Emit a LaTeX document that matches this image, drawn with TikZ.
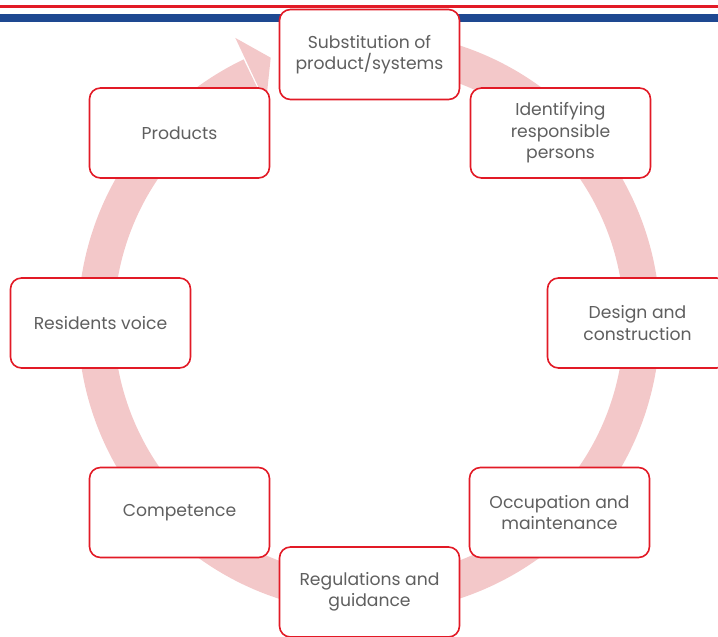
\documentclass[tikz,border=0pt]{standalone}
\usepackage{fontspec}
\setmainfont{Poppins}
\usetikzlibrary{calc}
\definecolor{bandpink}{RGB}{243,200,201}
\definecolor{boxred}{RGB}{226,26,38}
\definecolor{flagblue}{RGB}{30,72,145}
\definecolor{textgray}{RGB}{95,95,95}
\tikzset{
  stepbox/.style={draw=boxred, line width=1.6pt, rounded corners=11pt, fill=white,
    minimum width=180pt, minimum height=90pt, align=center, inner sep=2pt,
    font=\fontsize{17.2pt}{21.5pt}\selectfont, text=textgray},
  band/.style={draw=bandpink, line width=36pt},
}
\begin{document}
\begin{tikzpicture}[x=1pt,y=1pt]
\useasboundingbox (0,0) rectangle (718,637);
% top stripes
\coordinate (rl) at (0,630.5);
\coordinate (rr) at (718,630.5);
\coordinate (bl) at (0,619);
\coordinate (br) at (718,619);
\draw[boxred, line width=3pt] (rl) -- (rr);
\draw[flagblue, line width=8pt] (bl) -- (br);
% circular arrow
\coordinate (C) at (369,315);
\draw[band] ([shift={(78:273pt)}]C) arc[start angle=78, end angle=-244.5, radius=273pt];
\fill[bandpink] ($(C)+(115.2:242pt)$) -- ($(C)+(115.2:314pt)$) -- ($(C)+(110.4:282pt)$) -- cycle;
% boxes
\node[stepbox] (sub) at (369.5,582.5) {Substitution of\\product/systems};
\node[stepbox] (ide) at (560.5,504) {Identifying\\responsible\\persons};
\node[stepbox] (des) at (637.5,314) {Design and\\construction};
\node[stepbox] (occ) at (559.5,124.5) {Occupation and\\maintenance};
\node[stepbox] (reg) at (369.5,45) {Regulations and\\guidance};
\node[stepbox] (com) at (179.5,124.5) {Competence};
\node[stepbox] (res) at (100.5,314) {Residents voice};
\node[stepbox] (pro) at (179.5,504) {Products};
\end{tikzpicture}
\end{document}
